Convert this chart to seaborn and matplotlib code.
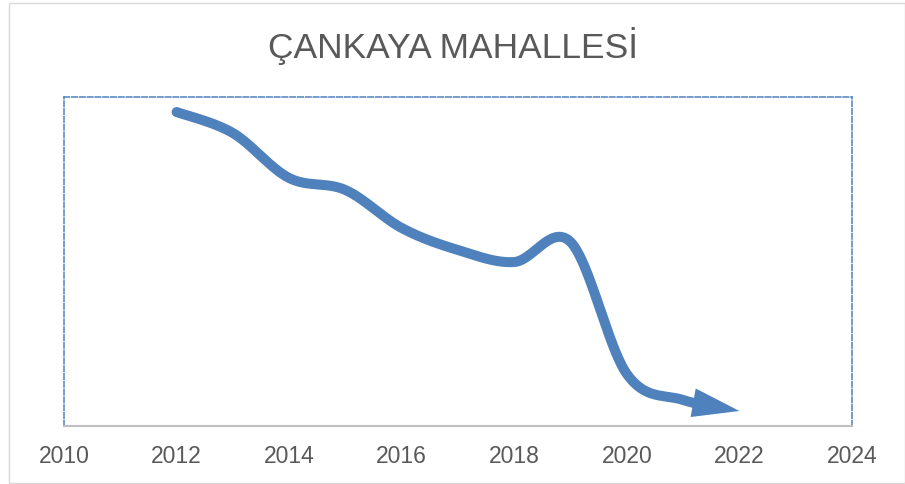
import numpy as np
import pandas as pd
import matplotlib
matplotlib.use("Agg")
import matplotlib.pyplot as plt
import seaborn as sns
from matplotlib.patches import FancyArrowPatch, Rectangle, ArrowStyle

# Trend values (index, no y scale shown)
years = [2012, 2013, 2014, 2015, 2016, 2017, 2018, 2019, 2020, 2021, 2022]
values = [314, 293, 248, 236, 198, 176, 164, 184, 52, 26, 15]
tick_years = [2010, 2012, 2014, 2016, 2018, 2020, 2022, 2024]
title = "ÇANKAYA MAHALLESİ"

LINE_BLUE = "#4f81bd"
TEXT_GRAY = "#595959"


def smooth_curve(xs, ys, n=60):
    """Catmull-Rom style cubic Bezier smoothing through the points."""
    p = np.column_stack([xs, ys]).astype(float)
    ext = np.vstack([p[0], p, p[-1]])
    parts = []
    t = np.linspace(0, 1, n, endpoint=False)[:, None]
    for i in range(len(p) - 1):
        p0, p1, p2, p3 = ext[i], ext[i + 1], ext[i + 2], ext[i + 3]
        c1 = p1 + (p2 - p0) / 6
        c2 = p2 - (p3 - p1) / 6
        seg = ((1 - t) ** 3) * p1 + 3 * ((1 - t) ** 2) * t * c1 \
            + 3 * (1 - t) * (t ** 2) * c2 + (t ** 3) * p2
        parts.append(seg)
    parts.append(p[-1:])
    return np.vstack(parts)


sns.set_theme(style="white")
plt.rcParams["font.family"] = ["Liberation Sans", "DejaVu Sans"]

W, H = 905, 484
fig = plt.figure(figsize=(W / 100, H / 100), dpi=100)
ax = fig.add_axes([64 / W, 1 - 426 / H, (852 - 64) / W, (426 - 97) / H])

ax.set_xlim(2010, 2024)
ax.set_ylim(0, 329)

# Smooth path; the line stops under the arrow head
curve = smooth_curve(years, values)
disp = ax.transData.transform(curve)
tip_disp = disp[-1]
dist = np.hypot(*(disp - tip_disp).T)
head_len_px = 47
cut = np.where(dist >= head_len_px - 6)[0][-1]
line_df = pd.DataFrame({"x": curve[: cut + 1, 0], "y": curve[: cut + 1, 1]})

sns.lineplot(data=line_df, x="x", y="y", sort=False, estimator=None,
             color=LINE_BLUE, linewidth=7.2, ax=ax,
             solid_capstyle="round", solid_joinstyle="round")

# Arrow head pointing along the final direction of the curve
base_idx = np.where(dist >= head_len_px)[0][-1]
arrow = FancyArrowPatch(
    posA=tuple(curve[base_idx]), posB=(years[-1], values[-1]),
    arrowstyle=ArrowStyle("-|>", head_length=head_len_px * 0.72,
                          head_width=14.5 * 0.72),
    mutation_scale=1, shrinkA=0, shrinkB=0, lw=0,
    color=LINE_BLUE, zorder=5,
)
ax.add_patch(arrow)

# Axis styling
ax.set_xticks(tick_years)
ax.set_xticklabels([str(y) for y in tick_years])
ax.set_yticks([])
ax.set_xlabel("")
ax.set_ylabel("")
ax.tick_params(axis="x", length=0, pad=13.5, labelsize=16.5, labelcolor=TEXT_GRAY)
for side in ["left", "top", "right"]:
    ax.spines[side].set_visible(True)
    ax.spines[side].set_color(LINE_BLUE)
    ax.spines[side].set_linewidth(1.1)
    ax.spines[side].set_linestyle((0, (3.6, 1.5)))
ax.spines["bottom"].set_color("#bfbfbf")
ax.spines["bottom"].set_linewidth(1.5)
ax.spines["bottom"].set_zorder(3)
ax.patch.set_alpha(0)

fig.text(0.5, 1 - 58 / H, title, ha="center", va="baseline",
         fontsize=25.5, color=TEXT_GRAY)

# Outer chart border
fig.patches.append(Rectangle((9 / W, 1 - 483 / H), (904.5 - 9) / W, (483 - 3) / H,
                             transform=fig.transFigure, fill=False,
                             edgecolor="#d9d9d9", linewidth=1.0))

fig.savefig("out.png", dpi=100, facecolor="white")
